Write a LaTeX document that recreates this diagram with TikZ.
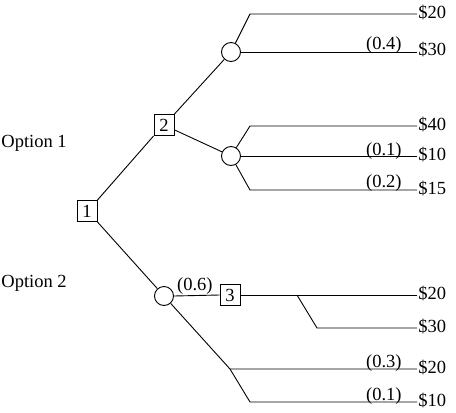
\documentclass[tikz,border=0pt]{standalone}
\usepackage{fontspec}
\setmainfont{Liberation Serif}
\begin{document}
\begin{tikzpicture}[x=1pt,y=-1pt,line width=0.9pt,
  every node/.style={font=\fontsize{18.5}{22}\selectfont},
  decbox/.style={draw,minimum width=20pt,minimum height=21pt,inner sep=0pt},
  chance/.style={draw,circle,minimum size=19pt,inner sep=0pt},
  payoff/.style={anchor=west,inner sep=1pt},
  prob/.style={anchor=base east,inner sep=0pt}]
\useasboundingbox (0,0) rectangle (456,413);
% nodes
\node[decbox] (b1) at (87,211) {1};
\node[decbox] (b2) at (164,125) {2};
\node[decbox] (b3) at (230,295) {3};
\node[chance] (c1) at (231,52) {};
\node[chance] (c2) at (231,156) {};
\node[chance] (c3) at (164,296) {};
% labels
\node[anchor=base west,inner sep=0pt] (o1) at (1,147) {Option 1};
\node[anchor=base west,inner sep=0pt] (o2) at (1,287) {Option 2};
\node[payoff] (p1) at (417,13) {\$20};
\node[payoff] (p2) at (417,50) {\$30};
\node[payoff] (p3) at (417,125) {\$40};
\node[payoff] (p4) at (417,155) {\$10};
\node[payoff] (p5) at (417,189) {\$15};
\node[payoff] (p6) at (417,294) {\$20};
\node[payoff] (p7) at (417,327) {\$30};
\node[payoff] (p8) at (417,368) {\$20};
\node[payoff] (p9) at (417,401) {\$10};
\node[prob] (q1) at (402,49) {(0.4)};
\node[prob] (q2) at (402,155) {(0.1)};
\node[prob] (q3) at (402,187) {(0.2)};
\node[prob] (q4) at (213,290) {(0.6)};
\node[prob] (q5) at (402,367) {(0.3)};
\node[prob] (q6) at (402,400) {(0.1)};
% coordinates
\coordinate (t1) at (250,14);
\coordinate (t3) at (250,126);
\coordinate (t5) at (250,190);
\coordinate (k) at (297,295);
\coordinate (t7) at (317,328);
\coordinate (t8) at (230,369);
\coordinate (t9) at (250,402);
% connectors
\draw (b1.north east) -- (b2.south west);
\draw (b1.south east) -- (c3);
\draw (b2.north east) -- (c1);
\draw (b2.-25) -- (c2);
\draw (c1) -- (t1) -- (t1 -| p1.west);
\draw (c1.east) -- (c1.east -| p2.west);
\draw (c2) -- (t3) -- (t3 -| p3.west);
\draw (c2.east) -- (c2.east -| p4.west);
\draw (c2) -- (t5) -- (t5 -| p5.west);
\draw (c3.east) -- (b3.west);
\draw (b3.east) -- (b3.east -| p6.west);
\draw (k) -- (t7) -- (t7 -| p7.west);
\draw (c3) -- (t8) -- (t8 -| p8.west);
\draw (t8) -- (t9) -- (t9 -| p9.west);
\end{tikzpicture}
\end{document}
